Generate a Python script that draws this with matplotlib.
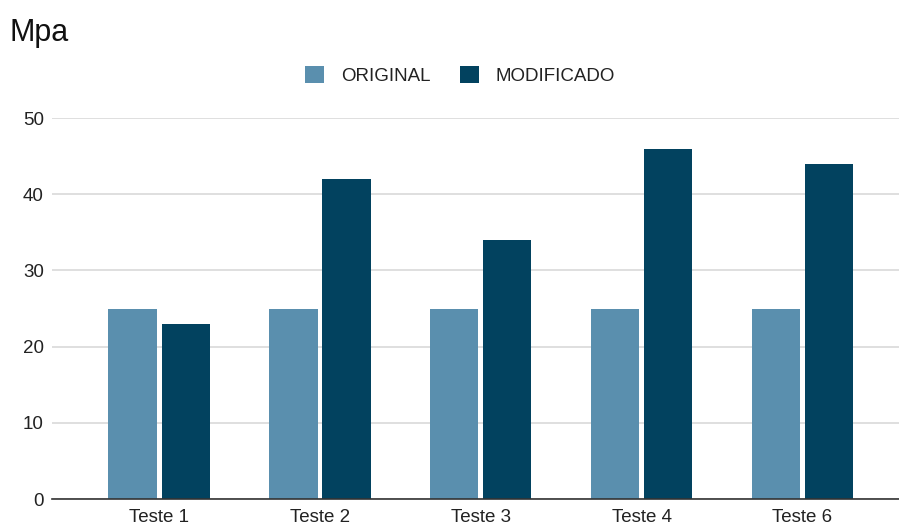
import numpy as np
import matplotlib
matplotlib.use("Agg")
import matplotlib.pyplot as plt

plt.rcParams['font.family'] = ['Liberation Sans', 'DejaVu Sans']

categorias = ['Teste 1', 'Teste 2', 'Teste 3', 'Teste 4', 'Teste 6']
original = [25, 25, 25, 25, 25]
modificado = [23, 42, 34, 46, 44]

fig = plt.figure(figsize=(8.99, 5.27), dpi=100)
ax = fig.add_axes([0.058, 0.053, 0.942, 0.723])

x = np.arange(len(categorias))
w = 0.30
ax.bar(x - 0.165, original, w, color='#5a8fae', label='ORIGINAL', zorder=3)
ax.bar(x + 0.165, modificado, w, color='#02425f', label='MODIFICADO', zorder=3)

ax.set_xlim(-0.665, 4.6)
ax.set_ylim(0, 50)
ax.set_yticks([0, 10, 20, 30, 40, 50])
ax.set_xticks(x)
ax.set_xticklabels(categorias)
ax.tick_params(axis='both', length=0, labelsize=13.5, colors='#222222')
ax.tick_params(axis='y', pad=6)
ax.tick_params(axis='x', pad=7)
ax.grid(axis='y', color='#d9d9d9', linewidth=1.2, zorder=0)
for s in ['top', 'right', 'left']:
    ax.spines[s].set_visible(False)
ax.spines['bottom'].set_color('#333333')
ax.spines['bottom'].set_linewidth(1.2)
ax.spines['bottom'].set_zorder(4)

fig.text(0.011, 0.937, 'Mpa', fontsize=22, color='#111111', va='center')
fig.legend(loc='center', bbox_to_anchor=(0.512, 0.857), ncol=2, frameon=False,
           fontsize=13.5, handlelength=1.0, handleheight=1.0, columnspacing=1.6,
           handletextpad=0.9, labelcolor='#222222')

plt.savefig("out.png")
